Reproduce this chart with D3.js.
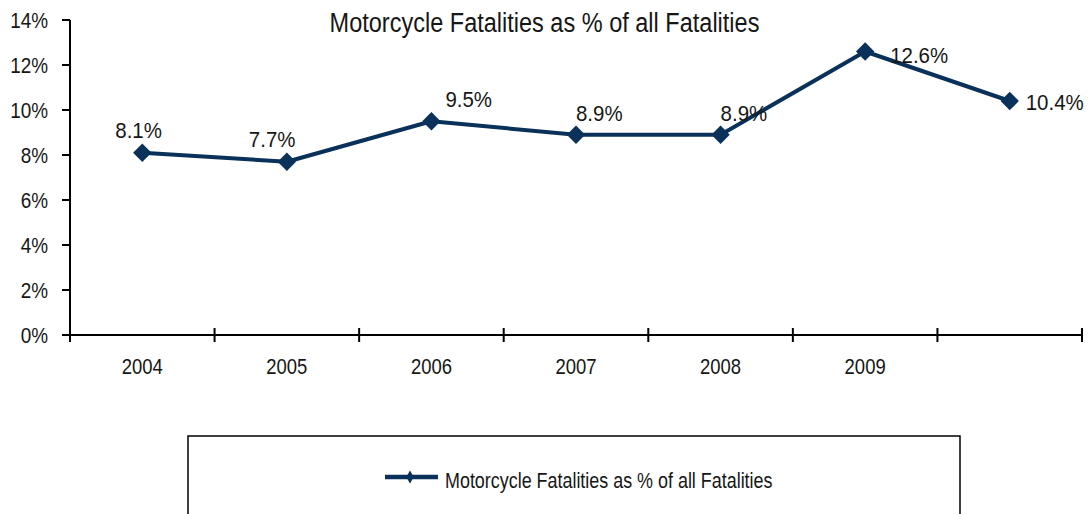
<!DOCTYPE html>
<html>
<head>
<meta charset="utf-8">
<script src="https://cdn.jsdelivr.net/npm/d3@7/dist/d3.min.js"></script>
<style>
  body { margin: 0; background: #fff; }
  svg text { font-family: "Liberation Sans", Arial, sans-serif; fill: #161616; }
</style>
</head>
<body>
<div id="chart"></div>
<script>
const title = "Motorcycle Fatalities as % of all Fatalities";
const years = ["2004", "2005", "2006", "2007", "2008", "2009", ""];
const values = [8.1, 7.7, 9.5, 8.9, 8.9, 12.6, 10.4];
const yTicks = [0, 2, 4, 6, 8, 10, 12, 14];

// label placement relative to each point (start of text, baseline)
const labelShift = [[-27, -15], [-38, -15], [14, -14], [0, -14], [0, -14], [25, 11], [16, 9]];

const width = 1089;
const height = 514;
const navy = "#0a3159";

const svg = d3
  .select("#chart")
  .append("svg")
  .attr("width", width)
  .attr("height", height);

const x = d3.scaleBand().domain(years).range([70, 1082]);
const y = d3.scaleLinear().domain([0, 14]).range([335, 20]);

// narrow font: squeeze Liberation Sans horizontally
function narrowText(parent, tx, ty, str, size, squeeze, anchor) {
  const g = parent
    .append("g")
    .attr("transform", `translate(${tx},${ty}) scale(${squeeze},1)`);
  g.append("text")
    .attr("text-anchor", anchor || "start")
    .attr("font-size", size)
    .text(str);
  return g;
}

narrowText(svg, 544.5, 32, title, 28, 0.84, "middle");

// y axis
svg
  .append("line")
  .attr("x1", 70)
  .attr("x2", 70)
  .attr("y1", y(0))
  .attr("y2", y(14))
  .attr("stroke", "#000")
  .attr("stroke-width", 2);
svg
  .selectAll("line.ytick")
  .data(yTicks)
  .join("line")
  .attr("class", "ytick")
  .attr("x1", 62)
  .attr("x2", 70)
  .attr("y1", (d) => y(d))
  .attr("y2", (d) => y(d))
  .attr("stroke", "#000")
  .attr("stroke-width", 2);
yTicks.forEach((d) => narrowText(svg, 48, y(d) + 8, d + "%", 22, 0.86, "end"));

// x axis
svg
  .append("line")
  .attr("x1", x.range()[0])
  .attr("x2", x.range()[1])
  .attr("y1", y(0))
  .attr("y2", y(0))
  .attr("stroke", "#000")
  .attr("stroke-width", 2);
const bounds = years.map((d) => x(d)).concat([x.range()[1]]);
svg
  .selectAll("line.xtick")
  .data(bounds)
  .join("line")
  .attr("class", "xtick")
  .attr("x1", (d) => d)
  .attr("x2", (d) => d)
  .attr("y1", y(0) - 7)
  .attr("y2", y(0) + 7)
  .attr("stroke", "#000")
  .attr("stroke-width", 2);
years.forEach((d) => narrowText(svg, x(d) + x.bandwidth() / 2, 374, d, 22, 0.84, "middle"));

// series
const pts = years.map((d, i) => ({ cx: x(d) + x.bandwidth() / 2, cy: y(values[i]), v: values[i], i }));

svg
  .append("path")
  .datum(pts)
  .attr("fill", "none")
  .attr("stroke", navy)
  .attr("stroke-width", 4)
  .attr("stroke-linejoin", "round")
  .attr("d", d3.line().x((d) => d.cx).y((d) => d.cy));

const diamond = d3.symbol().type(d3.symbolDiamond2).size(215);
svg
  .selectAll("path.marker")
  .data(pts)
  .join("path")
  .attr("class", "marker")
  .attr("transform", (d) => `translate(${d.cx},${d.cy})`)
  .attr("d", diamond)
  .attr("fill", navy);

pts.forEach((d) =>
  narrowText(svg, d.cx + labelShift[d.i][0], d.cy + labelShift[d.i][1], d.v.toFixed(1) + "%", 22, 0.93)
);

// legend
const legend = svg.append("g");
legend
  .append("rect")
  .attr("x", 188)
  .attr("y", 436)
  .attr("width", 772)
  .attr("height", 100)
  .attr("fill", "#fff")
  .attr("stroke", "#000")
  .attr("stroke-width", 1.5);
legend
  .append("line")
  .attr("x1", 385)
  .attr("x2", 438)
  .attr("y1", 477)
  .attr("y2", 477)
  .attr("stroke", navy)
  .attr("stroke-width", 4.5);
legend
  .append("path")
  .attr("transform", "translate(410,477)")
  .attr("d", d3.symbol().type(d3.symbolDiamond).size(48))
  .attr("fill", navy);
narrowText(legend, 445, 488, title, 22, 0.815);
</script>
</body>
</html>
